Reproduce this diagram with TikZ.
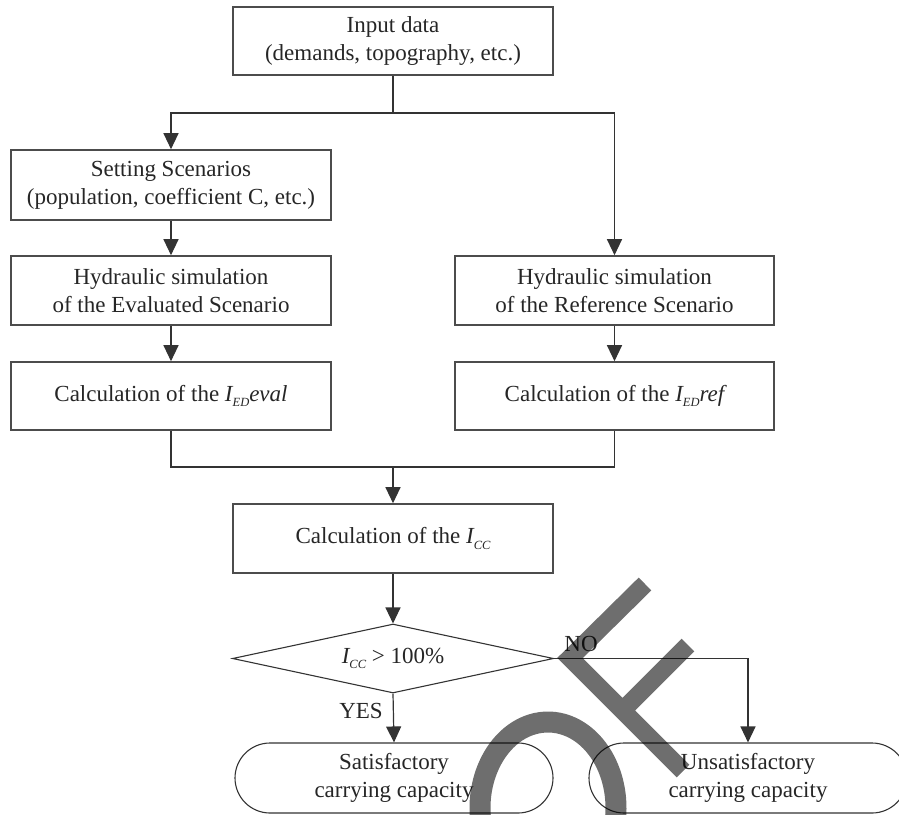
\documentclass[tikz,border=0pt]{standalone}
\usepackage{fontspec}
\setmainfont{Liberation Serif}
\usetikzlibrary{arrows.meta,shapes.geometric,shapes.misc}
\newcommand\sbx[1]{\raisebox{-0.5ex}{\fontsize{12.5}{12.5}\selectfont\itshape #1}}
\begin{document}
\begin{tikzpicture}[x=1pt,y=-1pt,
  txt/.style={font=\fontsize{23}{28}\selectfont, text=black!85, align=center},
  box/.style={txt, draw=black!70, line width=1.6pt, minimum width=320pt, minimum height=68pt, inner sep=0pt},
  dec/.style={txt, shape=diamond, aspect=4.65, draw=black!80, line width=1.1pt, minimum width=321pt, minimum height=69pt, inner sep=0pt},
  term/.style={txt, shape=rounded rectangle, draw=black!80, line width=1.1pt, minimum width=318pt, minimum height=70pt, inner sep=0pt},
  conn/.style={draw=black!80, line width=1.2pt},
  arr/.style={conn, -{Triangle[length=16pt,width=15pt]}},
  lab/.style={txt, inner sep=0pt},
  wm/.style={draw=black, draw opacity=0.57}
]
\useasboundingbox (0,0) rectangle (899,814);
\clip (0,0) rectangle (899,814);

\node[box] (inp) at (393,41) {Input data\\(demands, topography, etc.)};
\node[box, minimum height=70pt] (set) at (171,185) {Setting Scenarios\\(population, coefficient C, etc.)};
\node[box, minimum height=69pt] (hev) at (171,290.5) {Hydraulic simulation\\of the Evaluated Scenario};
\node[box, minimum height=69pt, minimum width=319pt] (hrf) at (614.5,290.5) {Hydraulic simulation\\of the Reference Scenario};
\node[box] (cev) at (171,396) {Calculation of the {\itshape I}\sbx{ED}{\itshape eval}};
\node[box, minimum width=319pt] (crf) at (614.5,396) {Calculation of the {\itshape I}\sbx{ED}{\itshape ref}};
\node[box, minimum height=69pt] (icc) at (393,538.5) {Calculation of the {\itshape I}\sbx{CC}};
\node[dec] (dia) at (393,658.5) {{\itshape I}\sbx{CC} > 100\%};
\node[term] (sat) at (394,778) {Satisfactory\\carrying capacity};
\node[term] (uns) at (748,778) {Unsatisfactory\\carrying capacity};

\coordinate (j1) at (393,113);
\coordinate (j2) at (393,467);

\draw[conn] (inp.south) -- (j1);
\draw[arr] (j1) -| (set.north);
\draw[arr] (j1) -| (hrf.north);
\draw[arr] (set.south) -- (hev.north);
\draw[arr] (hev.south) -- (cev.north);
\draw[arr] (hrf.south) -- (crf.north);
\draw[conn] (cev.south) |- (j2);
\draw[conn] (crf.south) |- (j2);
\draw[arr] (j2) -- (icc.north);
\draw[arr] (icc.south) -- (dia.north);
\draw[arr] (dia.south) -- (sat.north);
\draw[arr] (dia.east) -| (uns.north);

\node[lab] (yes) at (361,711) {YES};
\node[lab] (no) at (581,644) {NO};

% overlay marks
\draw[wm, line width=18pt, line join=miter] (645,584) -- (570,658) -- (683,771)
  (688,645) -- (622.5,710.5);
\draw[wm, line width=21pt] (548,808) ++(170:68 and 86) arc[start angle=170, end angle=370, x radius=68, y radius=86];
\end{tikzpicture}
\end{document}
